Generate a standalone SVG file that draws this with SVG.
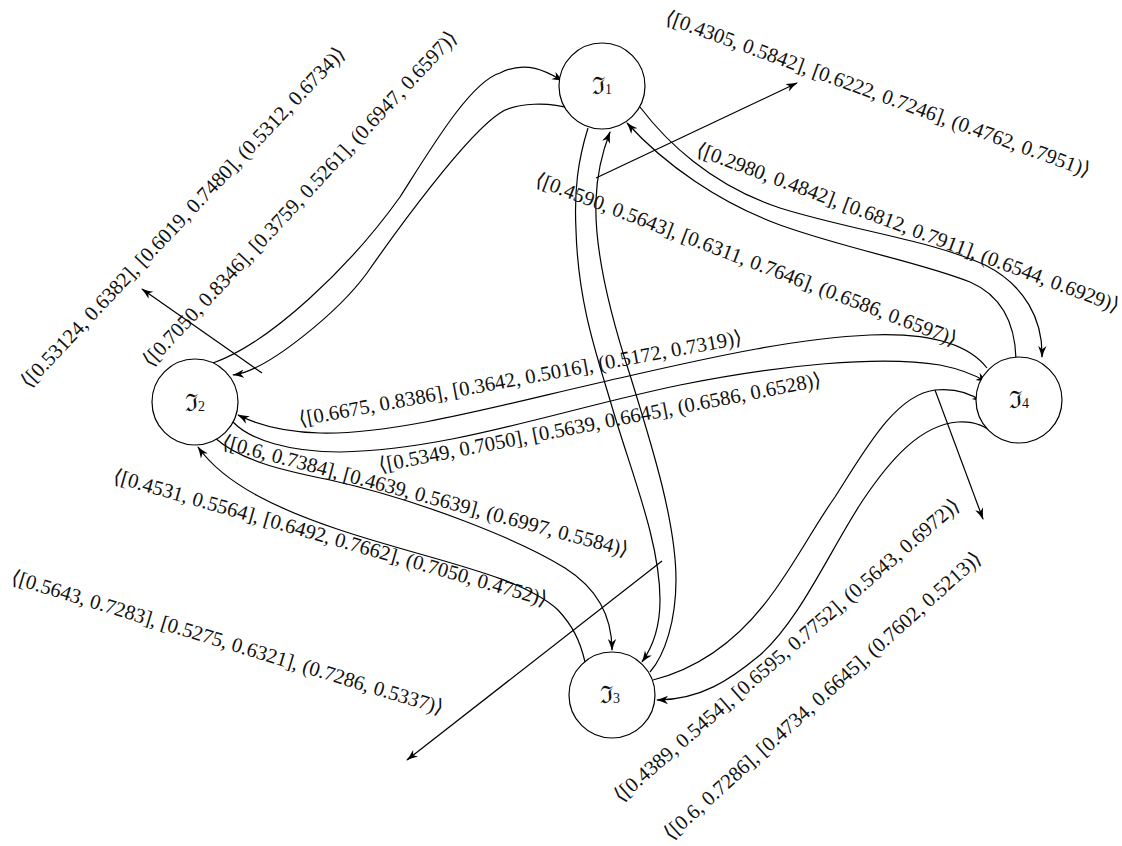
<svg xmlns="http://www.w3.org/2000/svg" width="1122" height="846" viewBox="0 0 1122 846">
<defs>
<marker id="ah" markerUnits="userSpaceOnUse" markerWidth="12" markerHeight="10" refX="11" refY="5" viewBox="0 0 12 10" orient="auto">
<path d="M0,0.8 Q6,3.6 12,5 Q6,6.4 0,9.2 L3.2,5 Z" fill="#000"/>
</marker>
<style>
.e{fill:none;stroke:#000;stroke-width:1.2;marker-end:url(#ah)}
.n{fill:#fff;stroke:#000;stroke-width:1.2}
.t{font-family:"Liberation Serif","DejaVu Serif",serif;font-size:20.7px;fill:#111}
.nl{font-family:"DejaVu Serif","Liberation Serif",serif;font-size:24px;fill:#111}
.sub{font-family:"Liberation Serif",serif;font-size:14px}
</style>
</defs>
<g id="connectors">
<path class="e" d="M213,363 C270,343 350,267 400,197 C430,150 470,82 500,73 C527,59 549,73 563,81"/>
<path class="e" d="M572,109 C550,102 517,102 500,113 C466,135 397,230 367,273 C340,310 268,371 233,375"/>
<path class="e" d="M588,128 C578,160 574,190 576,230 C578,300 595,350 610,400 C630,470 660,540 660,600 C660,630 652,648 642,662"/>
<path class="e" d="M650,672 C665,655 676,620 676,580 C676,520 650,440 630,375 C612,320 594,250 596,200 C597,170 603,150 610,132"/>
<path class="e" d="M640,107 C665,140 710,185 780,208 C850,230 930,240 985,265 C1025,285 1043,320 1042,357"/>
<path class="e" d="M1016,359 C1015,320 1000,295 970,282 C920,262 850,250 780,225 C720,203 665,165 627,123"/>
<path class="e" d="M987,368 C965,340 920,333 870,335 C800,338 720,355 620,378 C520,400 400,435 320,433 C285,432 258,425 238,415"/>
<path class="e" d="M233,422 C250,440 290,452 340,452 C450,450 560,410 680,385 C780,365 880,355 940,365 C960,369 975,375 987,382"/>
<path class="e" d="M215,438 C240,460 280,470 330,480 C420,500 520,540 565,568 C595,587 612,615 612,650"/>
<path class="e" d="M585,662 C580,640 572,625 558,610 C520,575 430,560 340,530 C280,510 225,485 198,447"/>
<path class="e" d="M653,680 C700,668 740,640 775,590 C800,555 815,525 835,497 C865,450 895,395 935,390 C955,388 972,394 983,402"/>
<path class="e" d="M995,435 C985,425 972,421 958,422 C920,425 890,460 863,500 C830,550 800,620 760,655 C730,680 700,700 657,700"/>
<path class="e" d="M596,178 L797,83"/>
<path class="e" d="M262,373 L142,289"/>
<path class="e" d="M935,390 L983,519"/>
<path class="e" d="M662,561 L407,760"/>
</g>
<g id="node1"><circle class="n" cx="602" cy="86" r="43"/><text class="nl" x="602" y="94" text-anchor="middle">ℑ<tspan class="sub">1</tspan></text></g>
<g id="node2"><circle class="n" cx="195" cy="402" r="43"/><text class="nl" x="195" y="411" text-anchor="middle">ℑ<tspan class="sub">2</tspan></text></g>
<g id="node3"><circle class="n" cx="612" cy="695" r="43"/><text class="nl" x="610" y="703" text-anchor="middle">ℑ<tspan class="sub">3</tspan></text></g>
<g id="node4"><circle class="n" cx="1019" cy="400" r="43"/><text class="nl" x="1019" y="408" text-anchor="middle">ℑ<tspan class="sub">4</tspan></text></g>
<g id="labels">
<text class="t" transform="translate(29,389) rotate(-46.5)">⟨[0.53124, 0.6382], [0.6019, 0.7480], (0.5312, 0.6734)⟩</text>
<text class="t" transform="translate(151,368) rotate(-47)">⟨[0.7050, 0.8346], [0.3759, 0.5261], (0.6947, 0.6597)⟩</text>
<text class="t" transform="translate(664,23) rotate(20)">⟨[0.4305, 0.5842], [0.6222, 0.7246], (0.4762, 0.7951)⟩</text>
<text class="t" transform="translate(695,155) rotate(20.5)">⟨[0.2980, 0.4842], [0.6812, 0.7911], (0.6544, 0.6929)⟩</text>
<text class="t" transform="translate(534,185) rotate(21)">⟨[0.4590, 0.5643], [0.6311, 0.7646], (0.6586, 0.6597)⟩</text>
<text class="t" transform="translate(300,426) rotate(-10.5)">⟨[0.6675, 0.8386], [0.3642, 0.5016], (0.5172, 0.7319)⟩</text>
<text class="t" transform="translate(380,472) rotate(-11)">⟨[0.5349, 0.7050], [0.5639, 0.6645], (0.6586, 0.6528)⟩</text>
<text class="t" transform="translate(221,448) rotate(15)">⟨[0.6, 0.7384], [0.4639, 0.5639], (0.6997, 0.5584)⟩</text>
<text class="t" transform="translate(112,482) rotate(16)">⟨[0.4531, 0.5564], [0.6492, 0.7662], (0.7050, 0.4752)⟩</text>
<text class="t" transform="translate(10,583) rotate(17)">⟨[0.5643, 0.7283], [0.5275, 0.6321], (0.7286, 0.5337)⟩</text>
<text class="t" transform="translate(621,803) rotate(-41)">⟨[0.4389, 0.5454], [0.6595, 0.7752], (0.5643, 0.6972)⟩</text>
<text class="t" transform="translate(671,841) rotate(-42)">⟨[0.6, 0.7286], [0.4734, 0.6645], (0.7602, 0.5213)⟩</text>
</g>
</svg>
